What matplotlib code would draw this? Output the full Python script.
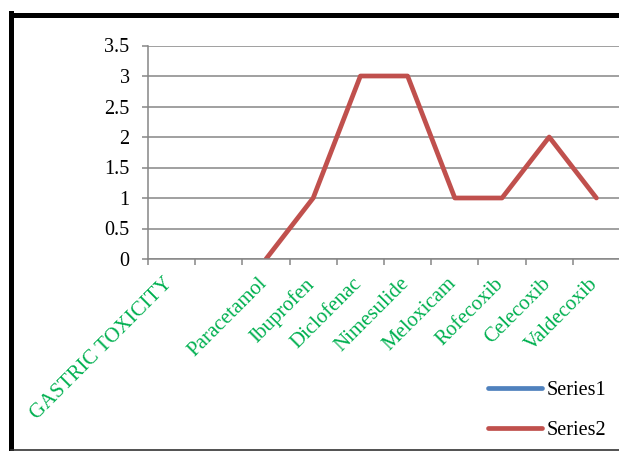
import numpy as np
import matplotlib.pyplot as plt
from matplotlib.lines import Line2D
from matplotlib.transforms import ScaledTranslation

categories = ['GASTRIC TOXICITY', '', 'Paracetamol', 'Ibuprofen', 'Diclofenac',
              'Nimesulide', 'Meloxicam', 'Rofecoxib', 'Celecoxib', 'Valdecoxib']
series1 = [np.nan] * 10
series2 = [np.nan, np.nan, 0, 1, 3, 3, 1, 1, 2, 1]
yticks = [0, 0.5, 1, 1.5, 2, 2.5, 3, 3.5]
ytick_labels = ['0', '0.5', '1', '1.5', '2', '2.5', '3', '3.5']

plt.rcParams['font.family'] = ['Liberation Serif', 'DejaVu Serif']

fig = plt.figure(figsize=(6.19, 4.51), dpi=100)
ax = fig.add_axes([148/619, 1 - 259/451, 472/619, 213.5/451])

x = np.arange(len(categories))
ax.plot(x, series1, color='#4F81BD', lw=3.4, solid_capstyle='round', label='Series1')
ax.plot(x, series2, color='#C0504D', lw=3.4, solid_capstyle='round', label='Series2')

ax.set_xlim(-0.5, len(categories) - 0.5)
ax.set_ylim(0, 3.5)
ax.set_yticks(yticks)
ax.set_yticklabels(ytick_labels, fontsize=14.5)
ax.yaxis.grid(True, color='#868686', lw=1.1)
ax.set_axisbelow(True)

ax.set_xticks(x)
ax.set_xticklabels(categories, fontsize=15, color='#00B050', rotation=45,
                   ha='right', va='top')
ax.set_xticks(np.arange(-0.5, len(categories)), minor=True)
ax.tick_params(axis='x', which='major', length=0, pad=11)
ax.tick_params(axis='x', which='minor', length=4.3, color='#868686', width=1.1)
ax.tick_params(axis='y', length=4.3, color='#868686', width=1.1, pad=9)
off = ScaledTranslation(5/100, 0, fig.dpi_scale_trans)
for lab in ax.get_xticklabels():
    lab.set_transform(lab.get_transform() + off)

for s in ['top', 'right']:
    ax.spines[s].set_visible(False)
for s in ['left', 'bottom']:
    ax.spines[s].set_color('#868686')
    ax.spines[s].set_linewidth(1.1)

leg = ax.legend(loc='lower left', bbox_to_anchor=(480/619, 3/451),
                bbox_transform=fig.transFigure, frameon=False, fontsize=14.5,
                handlelength=2.7, handletextpad=0.2, labelspacing=1.05,
                borderaxespad=0)

# figure frame
fig.add_artist(Line2D([11/619, 1], [1 - 15/451, 1 - 15/451], color='black',
                      lw=3.6, transform=fig.transFigure))
fig.add_artist(Line2D([11/619, 11/619], [1 - 450/451, 1 - 13/451], color='black',
                      lw=3.6, transform=fig.transFigure))
fig.add_artist(Line2D([11/619, 1], [1 - 450/451, 1 - 450/451], color='#333333',
                      lw=1.2, transform=fig.transFigure))

fig.savefig('out.png', dpi=100)
